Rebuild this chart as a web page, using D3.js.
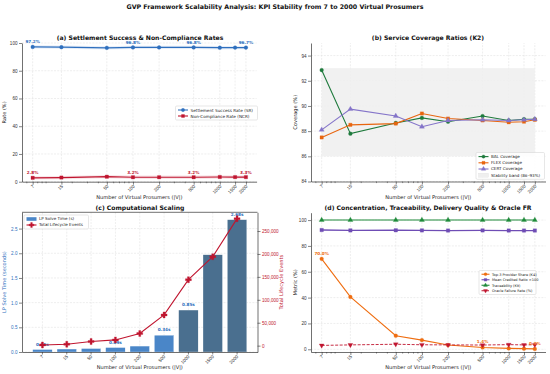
<!DOCTYPE html>
<html><head><meta charset="utf-8">
<script src="https://cdn.jsdelivr.net/npm/d3@7/dist/d3.min.js"></script>
<style>
body{margin:0;background:#fff;}
svg{display:block;font-family:"DejaVu Sans",sans-serif;}
</style></head>
<body><svg id="c" width="550" height="374"></svg>
<script>
// ---------------- data ----------------
const vps = [7, 15, 50, 100, 200, 500, 1000, 1500, 2000];
const vpLabels = ["7", "15", "50", "100", "200", "500", "1000", "1500", "2000"];
const srRate = [97.2, 97.0, 96.5, 96.8, 96.8, 96.8, 96.6, 96.7, 96.7];
const ncrRate = [2.8, 3.0, 3.6, 3.2, 3.2, 3.2, 3.4, 3.3, 3.3];
const rateLabelIdx = [0, 3, 5, 8];
const balCov = [92.85, 87.8, 88.65, 89.05, 88.75, 89.2, 88.85, 88.95, 88.95];
const flexCov = [87.5, 88.5, 88.6, 89.4, 89.0, 88.85, 88.7, 88.75, 88.9];
const certCov = [88.1, 89.75, 89.2, 88.35, 88.85, 88.9, 88.85, 88.9, 88.95];
const stabilityBand = [86, 93];
const lpSolveTime = [0.05, 0.06, 0.07, 0.09, 0.12, 0.34, 0.85, 1.97, 2.68];
const lpLabelIdx = [0, 3, 5, 6, 8];
const lifecycleEvents = [1500, 3000, 9000, 12500, 26500, 67000, 144000, 194000, 277000];
const top3Share = [70.0, 40.5, 10.5, 7.1, 3.3, 1.4, 0.7, 0.5, 0.3];
const top3LabelIdx = [0, 5, 8];
const creditedRatio = [92.3, 92.0, 92.1, 92.0, 91.9, 92.0, 91.9, 91.9, 91.9];
const traceability = [100, 100, 100, 100, 100, 100, 100, 100, 100];
const oracleFail = [3.0, 3.4, 3.9, 3.5, 3.4, 3.3, 3.6, 3.4, 3.5];
const ticksA = [0, 20, 40, 60, 80, 100];
const ticksB = [84, 86, 88, 90, 92, 94];
const ticksCL = [0, 0.5, 1.0, 1.5, 2.0, 2.5];
const ticksCR = [0, 50000, 100000, 150000, 200000, 250000];
const ticksD = [0, 20, 40, 60, 80, 100];

// ---------------- style ----------------
const C = {
  sr: "#2e6fbe", ncr: "#c0152f", bal: "#1e7a3c", flex: "#e8650f", cert: "#8474c9",
  barLight: "#4a86c8", barDark: "#4a6f8f", ev: "#c0152f",
  top3: "#ef6d10", cred: "#6f4db5", trace: "#1e8a3a", oracle: "#c0152f",
  grid: "#dcdcdc", axis: "#333", tick: "#333"
};
const svg = d3.select("#c");
const FT = 4.6;

svg.append("text").attr("x", 275).attr("y", 8.5).attr("text-anchor", "middle")
  .attr("font-size", 6.3).attr("font-weight", "bold").attr("fill", "#111")
  .text("GVP Framework Scalability Analysis: KPI Stability from 7 to 2000 Virtual Prosumers");

function logX(r) {
  const lo = Math.log10(d3.min(vps)), hi = Math.log10(d3.max(vps)), m = (hi - lo) * 0.05;
  return d3.scaleLog().domain([Math.pow(10, lo - m), Math.pow(10, hi + m)]).range(r);
}

function gridAndAxes(g, x, y, yTicks, opts) {
  const [x0, x1] = x.range(), [y0, y1] = y.range();
  const xs = opts.band ? vps.map((d, i) => x(vpLabels[i]) + x.bandwidth() / 2) : vps.map(v => x(v));
  xs.forEach(px => g.append("line").attr("x1", px).attr("x2", px).attr("y1", y0).attr("y2", y1)
    .attr("stroke", C.grid).attr("stroke-width", 0.5).attr("stroke-dasharray", "2,1.2"));
  yTicks.forEach(t => g.append("line").attr("x1", x0).attr("x2", x1).attr("y1", y(t)).attr("y2", y(t))
    .attr("stroke", C.grid).attr("stroke-width", 0.5).attr("stroke-dasharray", "2,1.2"));
}

function drawXAxis(g, x, y, opts) {
  const [y0] = y.range();
  const ax = g.append("g").attr("transform", `translate(0,${y0})`);
  if (opts.band) {
    ax.call(d3.axisBottom(x).tickSize(2.5).tickSizeOuter(0));
  } else {
    ax.call(d3.axisBottom(x).tickValues(vps).tickFormat((d, i) => vpLabels[i]).tickSize(3).tickSizeOuter(0));
    const minors = x.ticks().filter(t => vps.indexOf(t) < 0);
    minors.forEach(t => ax.append("line").attr("x1", x(t)).attr("x2", x(t)).attr("y1", 0).attr("y2", 1.6)
      .attr("stroke", C.axis).attr("stroke-width", 0.5));
  }
  ax.select(".domain").attr("stroke", C.axis).attr("stroke-width", 0.7);
  ax.selectAll(".tick line").attr("stroke", C.axis).attr("stroke-width", 0.6);
  ax.selectAll(".tick text").attr("font-size", FT).attr("fill", C.tick)
    .attr("text-anchor", "end").attr("dy", 0).attr("y", 0)
    .attr("transform", "translate(1.5,5) rotate(-45)");
  const [x0, x1] = x.range();
  g.append("text").attr("x", (x0 + x1) / 2).attr("y", y0 + 17).attr("text-anchor", "middle")
    .attr("font-size", 5.1).attr("fill", "#222").text("Number of Virtual Prosumers (|V|)");
}

function drawYAxis(g, x, y, ticks, fmt, label, color, lx, right) {
  const px = right ? x.range()[1] : x.range()[0];
  const ax = g.append("g").attr("transform", `translate(${px},0)`)
    .call((right ? d3.axisRight(y) : d3.axisLeft(y)).tickValues(ticks).tickFormat(fmt).tickSize(3).tickSizeOuter(0));
  ax.select(".domain").attr("stroke", C.axis).attr("stroke-width", 0.7);
  ax.selectAll(".tick line").attr("stroke", C.axis).attr("stroke-width", 0.6);
  ax.selectAll(".tick text").attr("font-size", FT).attr("fill", color || C.tick)
    .attr("x", right ? 4.5 : -4.5);
  const [y0, y1] = y.range();
  g.append("text").attr("transform", `translate(${lx},${(y0 + y1) / 2}) rotate(-90)`)
    .attr("text-anchor", "middle").attr("font-size", 5.1).attr("fill", color || "#222").text(label);
  return ax;
}

function title(g, cx, cy, t) {
  g.append("text").attr("x", cx).attr("y", cy).attr("text-anchor", "middle")
    .attr("font-size", 6.1).attr("font-weight", "bold").attr("fill", "#111").text(t);
}

function marker(g, type, cx, cy, color, size) {
  const sym = { circle: d3.symbolCircle, square: d3.symbolSquare, triangle: d3.symbolTriangle,
    triDown: d3.symbolTriangle, cross: d3.symbolCross }[type];
  const p = g.append("path").attr("d", d3.symbol().type(sym).size(size)())
    .attr("fill", color).attr("stroke", color).attr("stroke-width", 0.3);
  p.attr("transform", `translate(${cx},${cy})${type === "triDown" ? " rotate(180)" : ""}`);
  return p;
}

function series(g, x, y, vals, color, mtype, msize, dash, width) {
  const line = d3.line().x((d, i) => x(vps[i])).y(d => y(d));
  g.append("path").datum(vals).attr("d", line).attr("fill", "none").attr("stroke", color)
    .attr("stroke-width", width || 1.1).attr("stroke-dasharray", dash || null);
  vals.forEach((v, i) => marker(g, mtype, x(vps[i]), y(v), color, msize));
}

function legend(g, x0, y0, w, items, rowH, fs) {
  const h = items.length * rowH + 2;
  const lw = fs < 4 ? 8 : 10;
  g.append("rect").attr("x", x0).attr("y", y0).attr("width", w).attr("height", h).attr("rx", 1.2)
    .attr("fill", "#fff").attr("fill-opacity", 0.85).attr("stroke", "#cfcfcf").attr("stroke-width", 0.5);
  items.forEach((it, i) => {
    const cy = y0 + 1 + rowH * (i + 0.5);
    if (it.patch) {
      g.append("rect").attr("x", x0 + 2.5).attr("y", cy - 2).attr("width", lw).attr("height", 4)
        .attr("fill", it.patch).attr("stroke", "#ddd").attr("stroke-width", 0.3);
    } else if (it.bar) {
      g.append("rect").attr("x", x0 + 2.5).attr("y", cy - 1.8).attr("width", lw).attr("height", 3.6).attr("fill", it.bar);
    } else {
      g.append("line").attr("x1", x0 + 2.5).attr("x2", x0 + 2.5 + lw).attr("y1", cy).attr("y2", cy)
        .attr("stroke", it.color).attr("stroke-width", 1.1).attr("stroke-dasharray", it.dash || null);
      marker(g, it.m, x0 + 2.5 + lw / 2, cy, it.color, it.ms || (fs < 4 ? 7 : 9));
    }
    g.append("text").attr("x", x0 + lw + 5).attr("y", cy + fs * 0.36).attr("font-size", fs).attr("fill", "#222").text(it.t);
  });
}

function ptLabel(g, px, py, t, color) {
  g.append("text").attr("x", px).attr("y", py).attr("text-anchor", "middle")
    .attr("font-size", 4.2).attr("font-weight", "bold").attr("fill", color).text(t);
}

// ---------------- (a) ----------------
{
  const g = svg.append("g");
  const x = logX([22, 256.6]);
  const y = d3.scaleLinear().domain([0, 100]).range([181.7, 43]);
  gridAndAxes(g, x, y, ticksA, {});
  const area = d3.area().x((d, i) => x(vps[i])).y0(d => y(d - 1.2)).y1(d => y(d + 1.2));
  g.append("path").datum(srRate).attr("d", area).attr("fill", C.sr).attr("fill-opacity", 0.12);
  g.append("path").datum(ncrRate).attr("d", area).attr("fill", C.ncr).attr("fill-opacity", 0.12);
  series(g, x, y, srRate, C.sr, "circle", 11, null, 1.2);
  series(g, x, y, ncrRate, C.ncr, "square", 11, null, 1.2);
  rateLabelIdx.forEach(i => {
    ptLabel(g, x(vps[i]), y(srRate[i]) - 3.5, srRate[i].toFixed(1) + "%", C.sr);
    ptLabel(g, x(vps[i]), y(ncrRate[i]) - 3.5, ncrRate[i].toFixed(1) + "%", C.ncr);
  });
  drawXAxis(g, x, y, {});
  drawYAxis(g, x, y, ticksA, d3.format("d"), "Rate (%)", null, 6);
  title(g, 140, 39.5, "(a) Settlement Success & Non-Compliance Rates");
  legend(g, 175.5, 106, 82, [
    { t: "Settlement Success Rate (SR)", color: C.sr, m: "circle" },
    { t: "Non-Compliance Rate (NCR)", color: C.ncr, m: "square" }], 6, 4.2);
}

// ---------------- (b) ----------------
{
  const g = svg.append("g");
  const x = logX([311, 545.5]);
  const y = d3.scaleLinear().domain([84, 95]).range([181.5, 43]);
  gridAndAxes(g, x, y, ticksB, {});
  g.append("rect").attr("x", x(vps[0])).attr("width", x(vps[vps.length - 1]) - x(vps[0]))
    .attr("y", y(stabilityBand[1])).attr("height", y(stabilityBand[0]) - y(stabilityBand[1]))
    .attr("fill", "#efefef").attr("fill-opacity", 0.85);
  series(g, x, y, balCov, C.bal, "circle", 11);
  series(g, x, y, flexCov, C.flex, "square", 11);
  series(g, x, y, certCov, C.cert, "triangle", 11);
  drawXAxis(g, x, y, {});
  drawYAxis(g, x, y, ticksB, d3.format("d"), "Coverage (%)", null, 296.5);
  title(g, 428, 39.5, "(b) Service Coverage Ratios (K2)");
  legend(g, 476, 152.5, 68.5, [
    { t: "BAL Coverage", color: C.bal, m: "circle" },
    { t: "FLEX Coverage", color: C.flex, m: "square" },
    { t: "CERT Coverage", color: C.cert, m: "triangle" },
    { t: "Stability band (86\u201393%)", patch: "#efefef" }], 6.2, 4.1);
}

// ---------------- (c) ----------------
{
  const g = svg.append("g");
  const x = d3.scaleBand().domain(vpLabels).range([22, 257.5]).paddingInner(0.2).paddingOuter(0.44);
  const y = d3.scaleLinear().domain([0, 2.83]).range([352, 212.3]);
  const evMax = d3.max(lifecycleEvents), m = evMax * 0.05;
  const y2 = d3.scaleLinear().domain([-m, evMax + m]).range([352, 212.3]);
  gridAndAxes(g, x, y, ticksCL, { band: true });
  lpSolveTime.forEach((v, i) => {
    g.append("rect").attr("x", x(vpLabels[i])).attr("width", x.bandwidth())
      .attr("y", y(v)).attr("height", y(0) - y(v))
      .attr("fill", v >= 0.5 ? C.barDark : C.barLight).attr("stroke", "#fff").attr("stroke-width", 0.3);
  });
  lpLabelIdx.forEach(i => ptLabel(g, x(vpLabels[i]) + x.bandwidth() / 2, y(lpSolveTime[i]) - 4,
    lpSolveTime[i].toFixed(2) + "s", C.sr));
  const line = d3.line().x((d, i) => x(vpLabels[i]) + x.bandwidth() / 2).y(d => y2(d));
  g.append("path").datum(lifecycleEvents).attr("d", line).attr("fill", "none").attr("stroke", C.ev).attr("stroke-width", 1.1);
  lifecycleEvents.forEach((v, i) => marker(g, "cross", x(vpLabels[i]) + x.bandwidth() / 2, y2(v), C.ev, 20));
  g.append("line").attr("x1", 22).attr("x2", 257.5).attr("y1", 212.3).attr("y2", 212.3).attr("stroke", C.axis).attr("stroke-width", 0.7);
  drawXAxis(g, x, y, { band: true });
  drawYAxis(g, x, y, ticksCL, d3.format(".1f"), "LP Solve Time (seconds)", C.sr, 6);
  drawYAxis(g, x, y2, ticksCR, d3.format(","), "Total Lifecycle Events", C.ev, 283, true);
  title(g, 140, 209.5, "(c) Computational Scaling");
  legend(g, 24, 215, 64.5, [
    { t: "LP Solve Time (s)", bar: C.barLight },
    { t: "Total Lifecycle Events", color: C.ev, m: "cross", ms: 14 }], 6, 4.1);
}

// ---------------- (d) ----------------
{
  const g = svg.append("g");
  const x = logX([311, 545.5]);
  const y = d3.scaleLinear().domain([-2.1, 105.7]).range([352, 212.7]);
  gridAndAxes(g, x, y, ticksD, {});
  series(g, x, y, top3Share, C.top3, "circle", 11);
  series(g, x, y, creditedRatio, C.cred, "square", 12, null, 1.3);
  series(g, x, y, traceability, C.trace, "triangle", 11);
  series(g, x, y, oracleFail, C.oracle, "triDown", 10, "3,1.5", 0.9);
  top3LabelIdx.forEach(i => ptLabel(g, x(vps[i]), y(top3Share[i]) - 4, top3Share[i].toFixed(1) + "%", C.top3));
  drawXAxis(g, x, y, {});
  drawYAxis(g, x, y, ticksD, d3.format("d"), "Metric (%)", null, 296.5);
  title(g, 428, 209.5, "(d) Concentration, Traceability, Delivery Quality & Oracle FR");
  legend(g, 479, 270.5, 57, [
    { t: "Top-3 Provider Share (K4)", color: C.top3, m: "circle" },
    { t: "Mean Credited Ratio \u00d7100", color: C.cred, m: "square" },
    { t: "Traceability (K9)", color: C.trace, m: "triangle" },
    { t: "Oracle Failure Rate (%)", color: C.oracle, m: "triDown", dash: "3,1.5" }], 5.5, 3.5);
}
</script></body></html>
